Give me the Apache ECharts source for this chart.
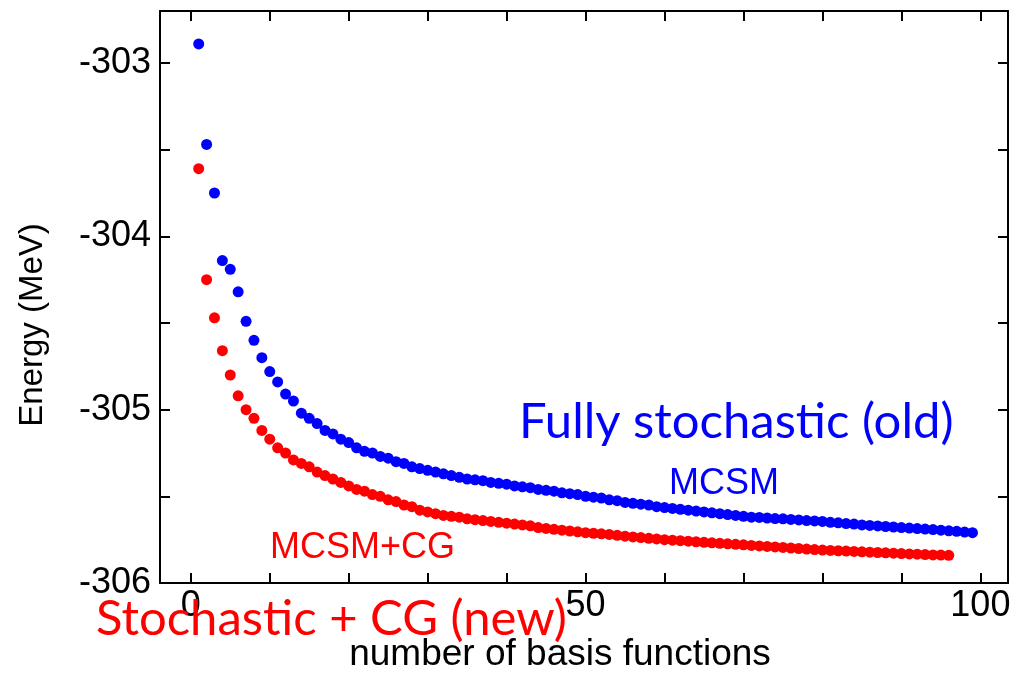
<!DOCTYPE html>
<html>
<head>
<meta charset="utf-8">
<script src="https://cdn.jsdelivr.net/npm/echarts@6/dist/echarts.min.js"></script>
<style>html,body{margin:0;padding:0;background:#fff}#c{width:1015px;height:673px}</style>
</head>
<body>
<div id="c"></div>
<script>
// MCSM (fully stochastic, old): basis functions 1..99
const mcsmEnergy = [
-302.89,-303.47,-303.75,-304.14,-304.19,-304.32,-304.49,-304.60,-304.70,-304.78,
-304.84,-304.91,-304.95,-305.02,-305.05,-305.08,-305.12,-305.14,-305.17,-305.19,
-305.22,-305.24,-305.25,-305.27,-305.28,-305.30,-305.31,-305.33,-305.34,-305.35,
-305.36,-305.37,-305.38,-305.39,-305.40,-305.405,-305.41,-305.42,-305.425,-305.43,
-305.44,-305.445,-305.45,-305.46,-305.465,-305.47,-305.48,-305.485,-305.49,-305.50,
-305.505,-305.51,-305.52,-305.525,-305.535,-305.54,-305.545,-305.55,-305.56,-305.565,
-305.57,-305.575,-305.58,-305.585,-305.59,-305.595,-305.60,-305.605,-305.61,-305.615,
-305.62,-305.622,-305.625,-305.628,-305.63,-305.633,-305.636,-305.64,-305.642,-305.645,
-305.65,-305.653,-305.657,-305.66,-305.665,-305.668,-305.671,-305.674,-305.677,-305.68,
-305.683,-305.686,-305.689,-305.692,-305.695,-305.699,-305.702,-305.706,-305.71
];
// MCSM+CG (stochastic + CG, new): basis functions 1..96
const mcsmCgEnergy = [
-303.61,-304.25,-304.47,-304.66,-304.80,-304.92,-305.00,-305.05,-305.12,-305.17,
-305.22,-305.25,-305.29,-305.31,-305.33,-305.36,-305.38,-305.40,-305.42,-305.44,
-305.46,-305.47,-305.49,-305.50,-305.52,-305.53,-305.55,-305.56,-305.58,-305.59,
-305.60,-305.61,-305.615,-305.62,-305.63,-305.635,-305.64,-305.645,-305.65,-305.655,
-305.66,-305.665,-305.67,-305.68,-305.685,-305.69,-305.695,-305.70,-305.705,-305.71,
-305.713,-305.716,-305.72,-305.725,-305.73,-305.734,-305.738,-305.742,-305.746,-305.75,
-305.753,-305.756,-305.759,-305.762,-305.765,-305.768,-305.771,-305.774,-305.777,-305.78,
-305.783,-305.786,-305.789,-305.792,-305.795,-305.798,-305.801,-305.804,-305.807,-305.81,
-305.812,-305.814,-305.816,-305.818,-305.82,-305.822,-305.824,-305.826,-305.828,-305.83,
-305.832,-305.834,-305.836,-305.838,-305.839,-305.84
];
const xTickValues = [0,10,20,30,40,50,60,70,80,90,100];
const xLabelValues = [0,50,100];
const yTickValues = [-306,-305.5,-305,-304.5,-304,-303.5,-303];
const yLabelValues = [-306,-305,-304,-303];

const toPairs = arr => arr.map((v,i)=>[i+1,v]);

const chart = echarts.init(document.getElementById('c'), null, {renderer:'canvas'});
const axisLine = {show:true, onZero:false, lineStyle:{color:'#000', width:2}};
const tickStyle = {lineStyle:{color:'#000', width:2}, inside:true, length:10};
const labelFont = {color:'#000', fontFamily:'Liberation Sans', fontSize:36};

chart.setOption({
  animation:false,
  backgroundColor:'#fff',
  grid:{left:160, right:7, top:11, bottom:90, containLabel:false},
  xAxis:[
    {type:'value', min:-3.9, max:103.5, position:'bottom',
     axisLine:axisLine, splitLine:{show:false},
     axisTick:Object.assign({show:true, customValues:xTickValues}, tickStyle),
     axisLabel:Object.assign({show:true, customValues:xLabelValues, margin:5}, labelFont)},
    {type:'value', min:-3.9, max:103.5, position:'top',
     axisLine:axisLine, splitLine:{show:false},
     axisTick:Object.assign({show:true, customValues:xTickValues}, tickStyle),
     axisLabel:{show:false}}
  ],
  yAxis:[
    {type:'value', min:-306, max:-302.7, position:'left',
     axisLine:axisLine, splitLine:{show:false},
     axisTick:Object.assign({show:true, customValues:yTickValues}, tickStyle),
     axisLabel:Object.assign({show:true, customValues:yLabelValues, margin:9}, labelFont)},
    {type:'value', min:-306, max:-302.7, position:'right',
     axisLine:axisLine, splitLine:{show:false},
     axisTick:Object.assign({show:true, customValues:yTickValues}, tickStyle),
     axisLabel:{show:false}}
  ],
  series:[
    {name:'MCSM', type:'scatter', data:toPairs(mcsmEnergy), symbolSize:11,
     itemStyle:{color:'#0000ff', opacity:1}, xAxisIndex:0, yAxisIndex:0},
    {name:'MCSM+CG', type:'scatter', data:toPairs(mcsmCgEnergy), symbolSize:11,
     itemStyle:{color:'#ff0000', opacity:1}, xAxisIndex:0, yAxisIndex:0}
  ],
  graphic:[
    {type:'text', left:519, top:398, z:100,
     style:{text:'Fully stochastic (old)', fill:'#0000ff', font:'49px Lato'}},
    {type:'text', left:669, top:466, z:100,
     style:{text:'MCSM', fill:'#0000ff', font:'36px "Liberation Sans"'}},
    {type:'text', left:270, top:530, z:100,
     style:{text:'MCSM+CG', fill:'#ff0000', font:'36px "Liberation Sans"'}},
    {type:'text', left:96, top:595, z:100,
     style:{text:'Stochastic + CG (new)', fill:'#ff0000', font:'49px Lato'}},
    {type:'text', x:33, y:325, rotation:Math.PI/2, z:100,
     style:{text:'Energy (MeV)', fill:'#000', font:'33px "Liberation Sans"', align:'center', verticalAlign:'middle'}},
    {type:'text', x:560, y:655, z:100,
     style:{text:'number of basis functions', fill:'#000', font:'37px "Liberation Sans"', align:'center', verticalAlign:'middle'}}
  ]
});
</script>
</body>
</html>
